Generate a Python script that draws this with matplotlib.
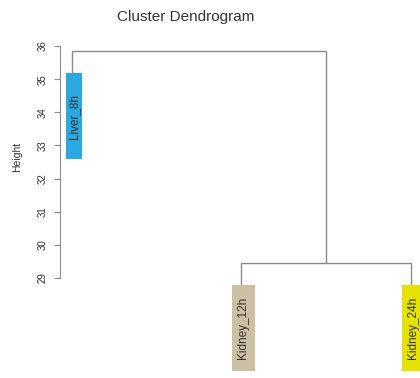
import matplotlib
matplotlib.use("Agg")
import matplotlib.pyplot as plt
from matplotlib.patches import Rectangle

# Leaves in plotting order and their colours
leaf_labels = ["Liver_8h", "Kidney_12h", "Kidney_24h"]
leaf_colors = ["#2AA9E0", "#CDBFA3", "#E3E200"]

# Merge heights: (Kidney_12h, Kidney_24h) first, then Liver_8h joins
merge_heights = [29.45, 35.85]
hang = 0.67

yticks = [29, 30, 31, 32, 33, 34, 35, 36]

plt.rcParams["font.family"] = ["Liberation Sans", "DejaVu Sans"]

W, H = 420, 378
fig = plt.figure(figsize=(W / 100, H / 100), dpi=100)
ax = fig.add_axes([60 / W, 0, (W - 60) / W, (H - 40) / H])

line_kw = dict(color="#8a8a8a", lw=1.0, solid_capstyle="butt")

# Positions of leaves
xs = [1, 2, 3]
h_kid, h_root = merge_heights

# Kidney cluster
kid_mid = (xs[1] + xs[2]) / 2
ax.plot([xs[1], xs[1], xs[2], xs[2]],
        [h_kid - hang, h_kid, h_kid, h_kid - hang], **line_kw)
# Root joining Liver_8h and the kidney cluster
ax.plot([xs[0], xs[0], kid_mid, kid_mid],
        [h_root - hang, h_root, h_root, h_kid], **line_kw)

leaf_tops = [h_root - hang, h_kid - hang, h_kid - hang]

# Coloured label boxes hanging below each leaf
box_h = 2.6      # in data units (height)
box_w = [0.095, 0.135, 0.125]
for x, top, lab, col, bw in zip(xs, leaf_tops, leaf_labels, leaf_colors, box_w):
    ax.add_patch(Rectangle((x - bw / 2 + 0.01, top - box_h), bw, box_h,
                           facecolor=col, edgecolor="none", zorder=3,
                           clip_on=False))
    ax.text(x + 0.01, top - box_h / 2, lab, rotation=90, ha="center",
            va="center", fontsize=8.5, color="#333333", zorder=4)

ax.set_xlim(1 - 12 / 169.5, 1 + 348 / 169.5)
ax.set_ylim(36 - (378 - 46) / 33.14, 36 + 6 / 33.14)

ax.set_yticks(yticks)
ax.set_yticklabels([str(t) for t in yticks], rotation=90, va="center",
                   fontsize=7, color="#333333")
ax.tick_params(axis="y", length=4, width=0.8, color="#8a8a8a", pad=5)
ax.set_xticks([])
for s in ["top", "right", "bottom"]:
    ax.spines[s].set_visible(False)
ax.spines["left"].set_bounds(29, 36)
ax.spines["left"].set_color("#8a8a8a")
ax.spines["left"].set_linewidth(0.8)

fig.text(17 / W, 1 - 157 / H, "Height", rotation=90, ha="center",
         va="center", fontsize=7.5, color="#333333")
fig.text(186 / W, 1 - 17 / H, "Cluster Dendrogram", ha="center",
         va="center", fontsize=11, color="#333333")

fig.savefig("out.png", dpi=100, facecolor="white")
